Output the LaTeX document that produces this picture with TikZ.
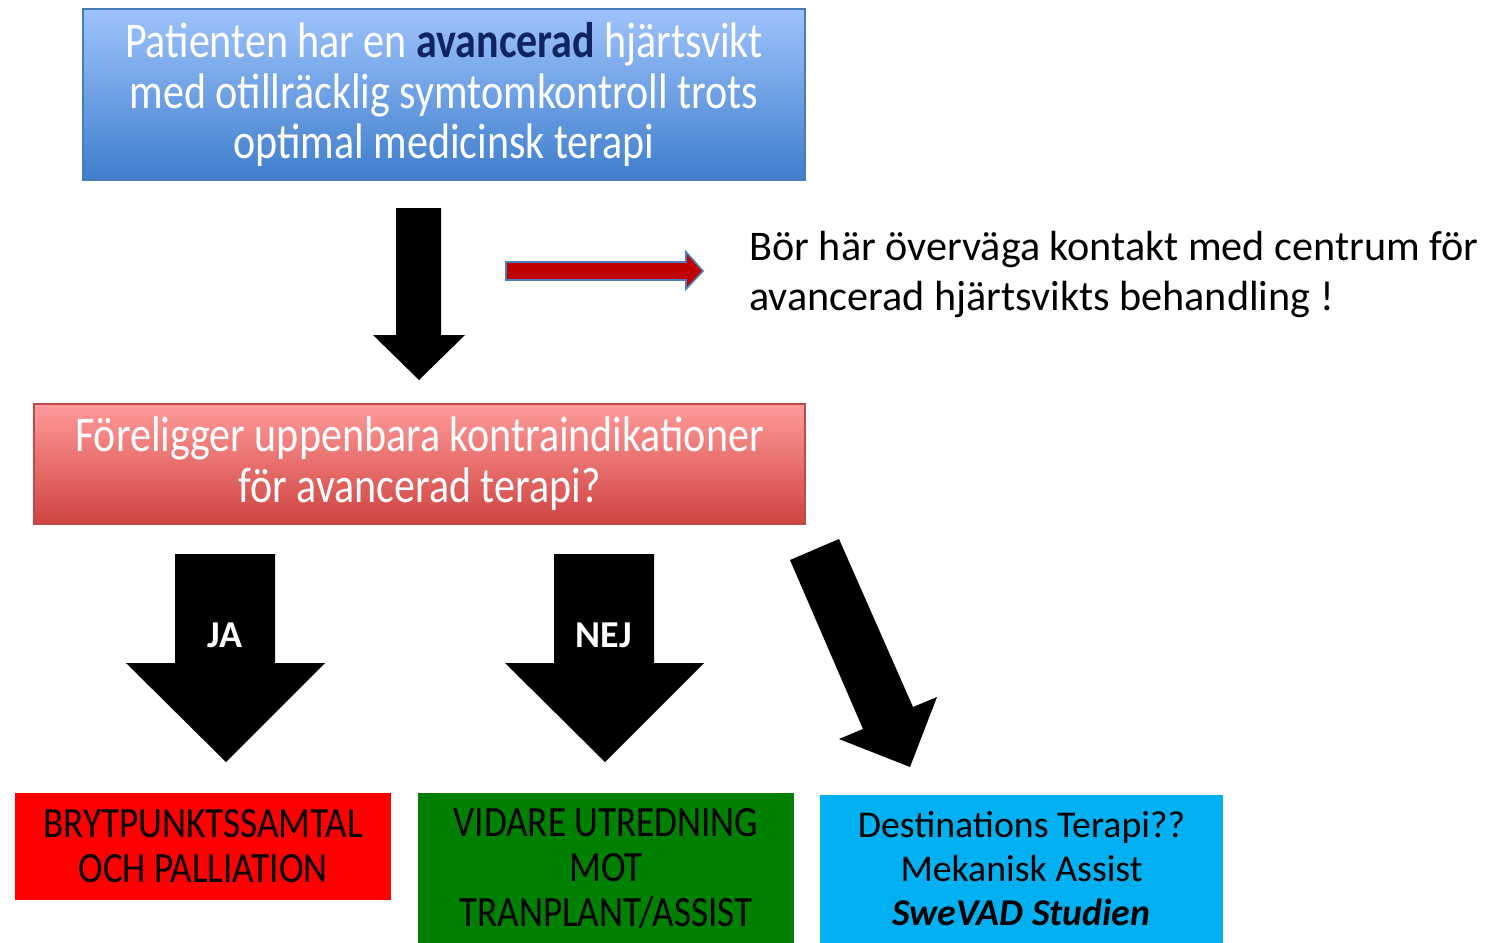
\documentclass[tikz,border=0pt]{standalone}
\usepackage{fontspec}
\setmainfont{Carlito}
\newfontfamily\narrowfont[FakeStretch=0.84]{Carlito}
\newfontfamily\slimfont[FakeStretch=0.86]{Carlito}
\usetikzlibrary{positioning}
\definecolor{bluetop}{HTML}{9EC3FC}
\definecolor{bluebot}{HTML}{3F7ECC}
\definecolor{blueline}{HTML}{4A7EBB}
\definecolor{redtop}{HTML}{FF9B9A}
\definecolor{redbot}{HTML}{CF4340}
\definecolor{redline}{HTML}{BE4B48}
\definecolor{darkred}{HTML}{C00000}
\definecolor{navy}{HTML}{0F2461}
\definecolor{stopred}{HTML}{FF0000}
\definecolor{gogreen}{HTML}{008000}
\definecolor{skyblue}{HTML}{00B0F0}
\begin{document}
\begin{tikzpicture}[x=0.5pt, y=-0.5pt,
  headbox/.style={draw=blueline, line width=0.6pt, top color=bluetop, bottom color=bluebot,
    text=white, align=center, font=\narrowfont\fontsize{25}{25.4}\selectfont},
  askbox/.style={draw=redline, line width=0.6pt, top color=redtop, bottom color=redbot,
    text=white, align=center, font=\narrowfont\fontsize{25}{25.5}\selectfont},
  outbox/.style={align=center, text=black, font=\slimfont\fontsize{21.6}{22.5}\selectfont},
  blockarrow/.style={fill=black},
  yesno/.style={text=white, font=\bfseries\fontsize{19}{19}\selectfont}]
  \useasboundingbox (0,0) rectangle (1495,943);
  \node (start) at (444,94.5) [headbox, minimum width=361pt, minimum height=85.5pt]
    {Patienten har en \textbf{\textcolor{navy}{avancerad}} hjärtsvikt\\
     med otillräcklig symtomkontroll trots\\ optimal medicinsk terapi};
  \node (ask) at (419.5,464) [askbox, minimum width=385.5pt, minimum height=60pt]
    {Föreligger uppenbara kontraindikationer\\ för avancerad terapi?};
  \node (note) at (749,274) [anchor=west, inner sep=0pt, align=left, font=\fontsize{21.1}{25}\selectfont]
    {Bör här överväga kontakt med centrum för\\ avancerad hjärtsvikts behandling !};
  \node (palliation) at (203,846.5) [outbox, fill=stopred, minimum width=188pt, minimum height=53.5pt]
    {BRYTPUNKTSSAMTAL\\ OCH PALLIATION};
  \node (workup) at (606,868) [outbox, fill=gogreen, minimum width=188pt, minimum height=75pt]
    {VIDARE UTREDNING\\ MOT\\ TRANPLANT/ASSIST};
  \node (destination) at (1021.5,869) [outbox, fill=skyblue, minimum width=201.5pt, minimum height=74pt,
    font=\fontsize{18.9}{22}\selectfont]
    {Destinations Terapi??\\ Mekanisk Assist\\ \textbf{\textit{SweVAD Studien}}};
  % block arrows
  \fill[blockarrow] (396,208) -- (441,208) -- (441,335) -- (465,335) -- (419,380) -- (373,335) -- (396,335) -- cycle;
  \draw[fill=darkred, draw=blueline, line width=0.8pt] (506,262) -- (686,262) -- (686,252) -- (703,271) -- (686,289) -- (686,280) -- (506,280) -- cycle;
  \fill[blockarrow] (175,554) -- (275,554) -- (275,663) -- (325,663) -- (226,762) -- (126,663) -- (175,663) -- cycle;
  \fill[blockarrow] (554,554) -- (654,554) -- (654,663) -- (704,663) -- (605,762) -- (505,663) -- (554,663) -- cycle;
  \fill[blockarrow] (790,560) -- (839,539) -- (913,707) -- (937,697) -- (910,767) -- (839,739) -- (863,729) -- cycle;
  \node (ja) at (225,635) [yesno] {JA};
  \node (nej) at (604,635) [yesno] {NEJ};
\end{tikzpicture}
\end{document}
